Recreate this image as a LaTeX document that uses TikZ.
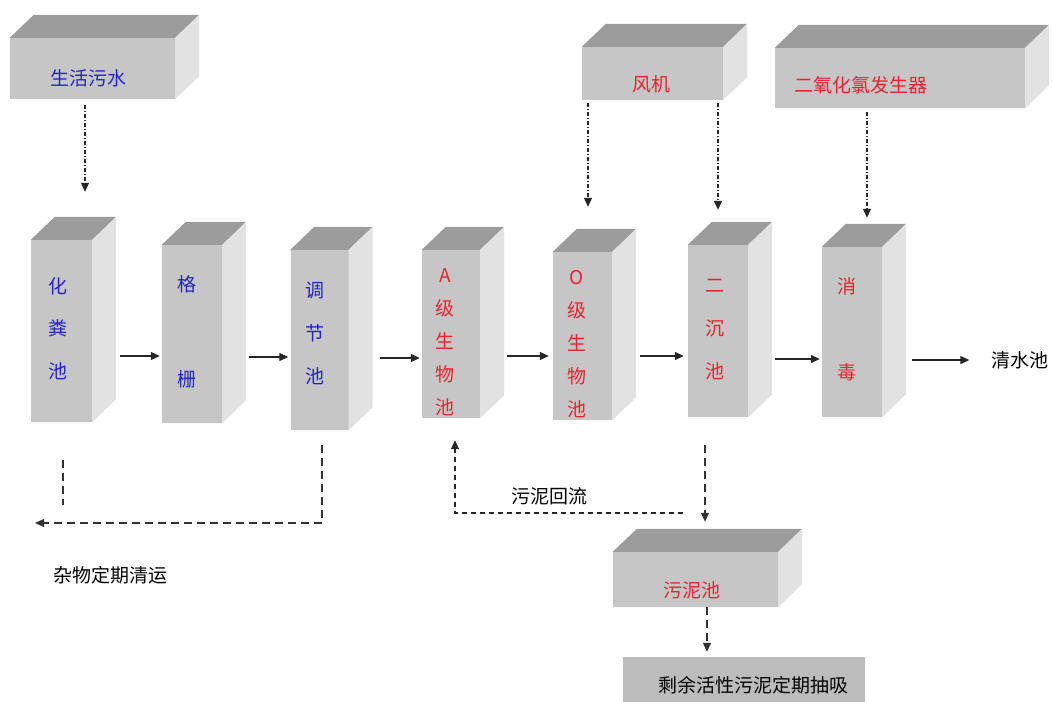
\documentclass[tikz,border=0pt]{standalone}
\usepackage{fontspec}
\setmainfont{Noto Sans CJK SC}
\usetikzlibrary{arrows.meta}
\definecolor{tankfront}{HTML}{C6C6C6}
\definecolor{tanktop}{HTML}{9C9C9C}
\definecolor{tankside}{HTML}{E2E2E2}
\definecolor{labblue}{HTML}{2323C8}
\definecolor{labred}{HTML}{E8232D}

\begin{document}
\begin{tikzpicture}[x=1pt,y=-1pt,
  tank/.style={fill=tankfront,inner sep=0pt,font=\fontsize{19}{23}\selectfont},
  word/.style={inner sep=0pt,font=\fontsize{19}{23}\selectfont},
  flow/.style={draw=black!85,line width=1.2pt,-{Triangle[length=9pt,width=8pt]}},
  feed/.style={draw=black!85,line width=1.1pt,dash pattern=on 4pt off 2pt on 1pt off 2pt,-{Triangle[length=9pt,width=8pt]}},
  refuse/.style={draw=black!80,line width=1.2pt,dash pattern=on 8pt off 5pt},
  recycle/.style={draw=black!85,line width=1.1pt,dash pattern=on 5pt off 4pt}]
\useasboundingbox (0,0) rectangle (1053,702);

\node[tank,minimum width=165pt,minimum height=61pt,text=labblue,text height=34pt,text depth=0pt] (sewage) at (92.5,68.5) {生活污水\kern9pt};
\node[tank,minimum width=141pt,minimum height=53pt,text=labred,text height=36pt,text depth=0pt] (blower) at (652.5,73.5) {风机\kern3pt};
\node[tank,minimum width=250pt,minimum height=60pt,text=labred,text height=28pt,text depth=0pt] (clo2) at (900,78) {二氧化氯发生器\kern78pt};

\node[tank,minimum width=61pt,minimum height=182pt,text=labblue] (septic) at (61.5,331) {\begin{tabular}{@{}c@{}}化\\[19.5pt]粪\\[19.5pt]池\end{tabular}\kern8pt};
\node[tank,minimum width=60pt,minimum height=178pt,text=labblue] (screen) at (192,334) {\begin{tabular}{@{}c@{}}格\\[72pt]栅\end{tabular}\kern10pt};
\node[tank,minimum width=58pt,minimum height=180pt,text=labblue] (equal) at (319.5,340) {\raisebox{4pt}[\height][\depth]{\begin{tabular}{@{}c@{}}调\\[20pt]节\\[20pt]池\end{tabular}}\kern10pt};
\node[tank,minimum width=58pt,minimum height=168pt,text=labred] (anoxic) at (451,334) {\raisebox{-10pt}[\height][\depth]{\begin{tabular}{@{}c@{}}A\\[10pt]级\\[10pt]生\\[10pt]物\\[10pt]池\end{tabular}}\kern12pt};
\node[tank,minimum width=59pt,minimum height=168pt,text=labred] (oxic) at (582.5,336) {\raisebox{-10pt}[\height][\depth]{\begin{tabular}{@{}c@{}}O\\[10pt]级\\[10pt]生\\[10pt]物\\[10pt]池\end{tabular}}\kern11pt};
\node[tank,minimum width=60pt,minimum height=172pt,text=labred] (clar) at (718,331) {\begin{tabular}{@{}c@{}}二\\[20pt]沉\\[20pt]池\end{tabular}\kern6pt};
\node[tank,minimum width=60pt,minimum height=170pt,text=labred] (dis) at (852,332) {\begin{tabular}{@{}c@{}}消\\[63pt]毒\end{tabular}\kern10pt};

\node[tank,minimum width=165pt,minimum height=55pt,text=labred,text height=36pt,text depth=0pt] (sludge) at (695.5,579.5) {污泥池\kern7pt};
\node[tank,fill=tankfront!95!black,minimum width=242pt,minimum height=46pt,text height=24pt,text depth=0pt] (removal) at (744,680) {\kern18pt剩余活性污泥定期抽吸};

\foreach \n in {sewage,blower,clo2,septic,screen,equal,anoxic,oxic,clar,dis,sludge} {
  \fill[tanktop] (\n.north west) -- ++(24,-23) -- ([shift={(24,-23)}]\n.north east) -- (\n.north east) -- cycle;
  \fill[tankside] (\n.north east) -- ++(24,-23) -- ([shift={(24,-23)}]\n.south east) -- (\n.south east) -- cycle;
}

\node[word] (clean) at (1020,360) {清水池};
\node[word] (haulage) at (110,575) {杂物定期清运};
\node[word] (backlab) at (549,496) {污泥回流};
\coordinate (haul) at (35,523);
\coordinate (back) at (683,513);

\draw[feed] ([shift={(-7.5,6)}]sewage.south) -- ([shift={(23.5,-48)}]septic.north);
\draw[feed] ([shift={(-64.5,3)}]blower.south) -- ([shift={(5.5,-45)}]oxic.north);
\draw[feed] ([shift={(65.5,3)}]blower.south) -- ([shift={(0,-35)}]clar.north);
\draw[feed] ([shift={(-33,4)}]clo2.south) -- ([shift={(15,-29)}]dis.north);

\draw[flow] ([shift={(28,25)}]septic.east) -- ([shift={(-2,22)}]screen.west);
\draw[flow] ([shift={(27,23)}]screen.east) -- ([shift={(-2,17)}]equal.west);
\draw[flow] ([shift={(31,18)}]equal.east) -- ([shift={(-2,24)}]anoxic.west);
\draw[flow] ([shift={(27,22)}]anoxic.east) -- ([shift={(-4,20)}]oxic.west);
\draw[flow] ([shift={(28,20)}]oxic.east) -- ([shift={(-4,25)}]clar.west);
\draw[flow] ([shift={(27,28)}]clar.east) -- ([shift={(-2,27)}]dis.west);
\draw[flow] ([shift={(30,28)}]dis.east) -- ([shift={(-22,0)}]clean.west);

\draw[refuse] ([shift={(1.5,38)}]septic.south) -- ([shift={(1.5,83)}]septic.south);
\draw[refuse,-{Triangle[length=9pt,width=8pt]}] ([shift={(2.5,15)}]equal.south) |- (haul);
\draw[refuse,-{Triangle[length=9pt,width=8pt]}] ([shift={(-13,28)}]clar.south) -- ([shift={(9.5,-30)}]sludge.north);
\draw[recycle,-{Triangle[length=9pt,width=8pt]}] (back) -| ([shift={(4,22)}]anoxic.south);
\draw[refuse,-{Triangle[length=9pt,width=8pt]}] ([shift={(11.5,0)}]sludge.south) -- ([shift={(-37,-5)}]removal.north);
\end{tikzpicture}
\end{document}
